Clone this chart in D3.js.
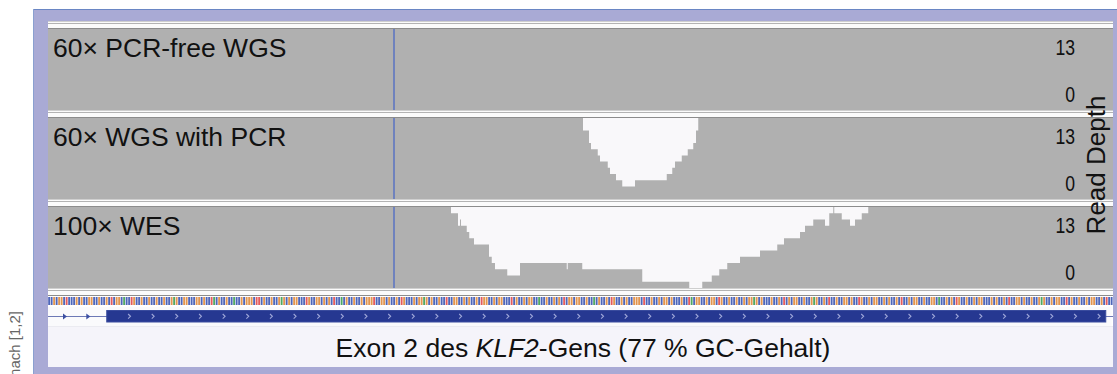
<!DOCTYPE html>
<html>
<head>
<meta charset="utf-8">
<script src="https://cdn.jsdelivr.net/npm/d3@7"></script>
<style>
  html, body { margin: 0; padding: 0; background: #fff; }
  svg { display: block; font-family: "Liberation Sans", Arial, sans-serif; }
</style>
</head>
<body>
<div id="chart"></div>
<script>
// ---- data ----------------------------------------------------------------
const regionLength = 426;            // bp shown
const depthMax = 13;                 // track data range
const depthLabels = [13, 0];
const markerPos = 138.4;             // blue guide line (bp)

const trackNames = ['60× PCR-free WGS', '60× WGS with PCR', '100× WES'];

// [start bp, read depth] – step function, values above 13 saturate
const coverPcrFree = [[0, 58], [95, 61], [210, 55], [330, 60]];
const coverPcr = [
  [0, 64], [214, 11], [216.4, 9], [217.2, 8], [219.9, 7], [220.8, 6],
  [223.9, 5], [224.8, 4], [227.2, 3], [229.7, 2], [234.8, 3], [247.5, 4],
  [249.7, 5], [250.8, 6], [253.5, 7], [255.9, 8], [258.1, 9], [259.2, 11],
  [260.1, 64]
];
const coverWes = [
  [0, 96], [161.2, 12], [164, 10], [164.8, 11], [165.2, 10], [167.5, 9],
  [168.5, 8], [170.4, 7], [176.4, 5], [177.5, 4], [178.8, 3], [183.7, 2],
  [188.8, 4], [207.5, 3], [207.9, 4], [213.7, 3], [237.7, 1], [256.5, 0],
  [261.7, 1], [265.5, 2], [268.5, 3], [271.7, 4], [276.8, 5], [284.8, 6],
  [291.7, 7], [294.4, 8], [300.8, 9], [302.8, 10], [306.1, 11], [310.8, 10],
  [312.5, 12], [314.1, 96], [314.5, 12], [317.5, 11], [320.8, 10],
  [322.8, 11], [325.5, 12], [328.1, 96]
];
const coverage = [coverPcrFree, coverPcr, coverWes];

// reference sequence (GC rich)
const sequence = [
  'CCGCGGCTCC', 'CGCGCCGGCC', 'GCCGCTCGGC', 'ACCTGCCGCC', 'GCCGCCGCCG',
  'AGCCGGCCCG', 'GCGCCTACGC', 'CGCCACCGCG', 'GGCTTCGCCG', 'CCGAGCGCGG',
  'CCCTGCCGGC', 'GCGCTCCACG', 'CCGCCGCGGG', 'TCCGGCGCCG', 'CTGCCCGCGG',
  'AGCGCCGCCT', 'CCGGCCGCGC', 'CGCTGGCCGC', 'GGCCCTCGCC', 'GCGGCCACCG',
  'CCGCGCTCGG', 'CGGCCGCCAC', 'GCCGCTGCCG', 'CGCCGGGCTC', 'CGCCGCGGCG',
  'CCCGCCTACG', 'GCCGCGGCTG', 'CCGCCGCCGC', 'GGAGCGCCCG', 'CCGCTCGCGG',
  'CCGCCGAGCC', 'GCTCCGCCGG', 'CGCCTGCCGC', 'GGCCGCGCCG', 'CTCCGCGGCC',
  'GCCGGCACCG', 'CGCTGCCGCC', 'GCGGCCCGCG', 'CCGCTCCGGC', 'GCCGCCGAGC',
  'CGCGGCCTCG', 'CCGCCGCGGC', 'CGCTCC'
].join('');
const baseColors = { A: '#3d9f52', C: '#3b55b3', G: '#df8a3c', T: '#e2494a' };

// gene model: intron line across region, exon (coding) block
const exonStart = 23.5, exonEnd = 423.1;

// ---- layout --------------------------------------------------------------
const W = 1117, H = 374;
const left = 48, right = 1113;
const panelTop0 = 29, panelH = 81, panelStep = 89;

const svg = d3.select('#chart').append('svg')
  .attr('width', W).attr('height', H);

// outer lavender frame
svg.append('rect').attr('x', 33).attr('y', 9).attr('width', W - 33).attr('height', H - 9)
  .attr('fill', '#a9aad5');
svg.append('line').attr('x1', 33).attr('x2', W).attr('y1', 9.5).attr('y2', 9.5)
  .attr('stroke', '#6a86c4').attr('stroke-width', 1);
svg.append('line').attr('x1', 33.5).attr('x2', 33.5).attr('y1', 9).attr('y2', H)
  .attr('stroke', '#8aa0d0').attr('stroke-width', 1);

// white content area
svg.append('rect').attr('x', left).attr('y', 21).attr('width', right - left).attr('height', 346)
  .attr('fill', '#ffffff');

const x = d3.scaleLinear().domain([0, regionLength]).range([left, right]);

function separator(yTop) {
  const g = svg.append('g');
  g.append('rect').attr('x', left).attr('y', yTop).attr('width', right - left).attr('height', 8)
    .attr('fill', '#fbfbfb');
  [[yTop + 0.5, '#cfcfcf'], [yTop + 2.5, '#b3b3b3'], [yTop + 7.5, '#8c8c8c']].forEach(([yy, c]) => {
    g.append('line').attr('x1', left).attr('x2', right).attr('y1', yy).attr('y2', yy)
      .attr('stroke', c).attr('stroke-width', 1);
  });
}

coverage.forEach((cov, i) => {
  const top = panelTop0 + i * panelStep;
  const bottom = top + panelH;
  separator(top - 8);

  const y = d3.scaleLinear().domain([0, depthMax]).range([bottom, top]);
  const pts = cov.concat([[regionLength, cov[cov.length - 1][1]]]);

  svg.append('rect').attr('x', left).attr('y', top).attr('width', right - left).attr('height', panelH)
    .attr('fill', '#f9f8fa');

  const area = d3.area()
    .x(d => x(d[0]))
    .y0(bottom)
    .y1(d => y(Math.min(d[1], depthMax)))
    .curve(d3.curveStepAfter);

  svg.append('path').datum(pts).attr('d', area).attr('fill', '#b0b0b0');

  svg.append('line')
    .attr('x1', x(markerPos)).attr('x2', x(markerPos))
    .attr('y1', top).attr('y2', bottom)
    .attr('stroke', '#6f82bd').attr('stroke-width', 2);

  svg.append('text')
    .attr('x', 53).attr('y', top + 27.7)
    .attr('font-size', '26.5px').attr('fill', '#111')
    .text(trackNames[i]);

  depthLabels.forEach((v, k) => {
    svg.append('text')
      .attr('transform', `translate(1075,${k === 0 ? top + 26 : top + 73}) scale(0.8,1)`)
      .attr('text-anchor', 'end')
      .attr('font-size', '22px').attr('fill', '#111')
      .text(v);
  });
});

// separator below last panel
separator(panelTop0 + 3 * panelStep - 8 + 0);

// sequence track
const bw = x(1) - x(0);
svg.append('g').selectAll('rect')
  .data(sequence.slice(0, regionLength).split(''))
  .join('rect')
  .attr('x', (d, i) => x(i) + 0.2)
  .attr('y', 297)
  .attr('width', bw * 0.75)
  .attr('height', 8)
  .attr('fill', d => baseColors[d])
  .attr('opacity', 0.9);

// gene track
svg.append('rect').attr('x', left).attr('y', 307).attr('width', right - left - 1.5).attr('height', 19)
  .attr('fill', '#fafafc');
svg.append('rect').attr('x', left).attr('y', 326).attr('width', right - left).attr('height', 41)
  .attr('fill', '#f5f4fa');
svg.append('line').attr('x1', left).attr('x2', right).attr('y1', 326.5).attr('y2', 326.5)
  .attr('stroke', '#ebebf1');

svg.append('line')
  .attr('x1', x(0)).attr('x2', x(regionLength))
  .attr('y1', 316.5).attr('y2', 316.5)
  .attr('stroke', '#6d79b6').attr('stroke-width', 1.2);

// strand arrows on the intron line
[65, 88.3].forEach(px => {
  svg.append('path')
    .attr('d', `M${px - 2},${313.5}L${px + 2},${316.5}L${px - 2},${319.5}Z`)
    .attr('fill', '#3c4fa3');
});

svg.append('rect')
  .attr('x', x(exonStart)).attr('y', 310.5)
  .attr('width', x(exonEnd) - x(exonStart)).attr('height', 11.5)
  .attr('fill', '#263891').attr('stroke', '#3a4c9e').attr('stroke-width', 1);

// chevrons inside exon
const chevGap = 23.65;
for (let px = 129.3; px < x(exonEnd) - 3; px += chevGap) {
  svg.append('path')
    .attr('d', `M${px - 1.2},${314}L${px + 1.2},${316.3}L${px - 1.2},${318.6}`)
    .attr('fill', 'none').attr('stroke', '#9ea6d8').attr('stroke-width', 1.1);
}

// caption
const cap = svg.append('text')
  .attr('x', 583).attr('y', 357)
  .attr('text-anchor', 'middle')
  .attr('font-size', '26.5px').attr('fill', '#111');
cap.append('tspan').text('Exon 2 des ');
cap.append('tspan').attr('font-style', 'italic').text('KLF2');
cap.append('tspan').text('-Gens (77 % GC-Gehalt)');

// axis title
svg.append('text')
  .attr('transform', 'translate(1105,165) rotate(-90)')
  .attr('text-anchor', 'middle')
  .attr('font-size', '26px').attr('fill', '#111')
  .text('Read Depth');

// source note, rotated, running off the bottom as in the source figure
svg.append('text')
  .attr('transform', 'translate(20,311) rotate(-90)')
  .attr('text-anchor', 'end')
  .attr('font-size', '15px').attr('fill', '#666')
  .text('Abbildung modifiziert nach [1,2]');
</script>
</body>
</html>
